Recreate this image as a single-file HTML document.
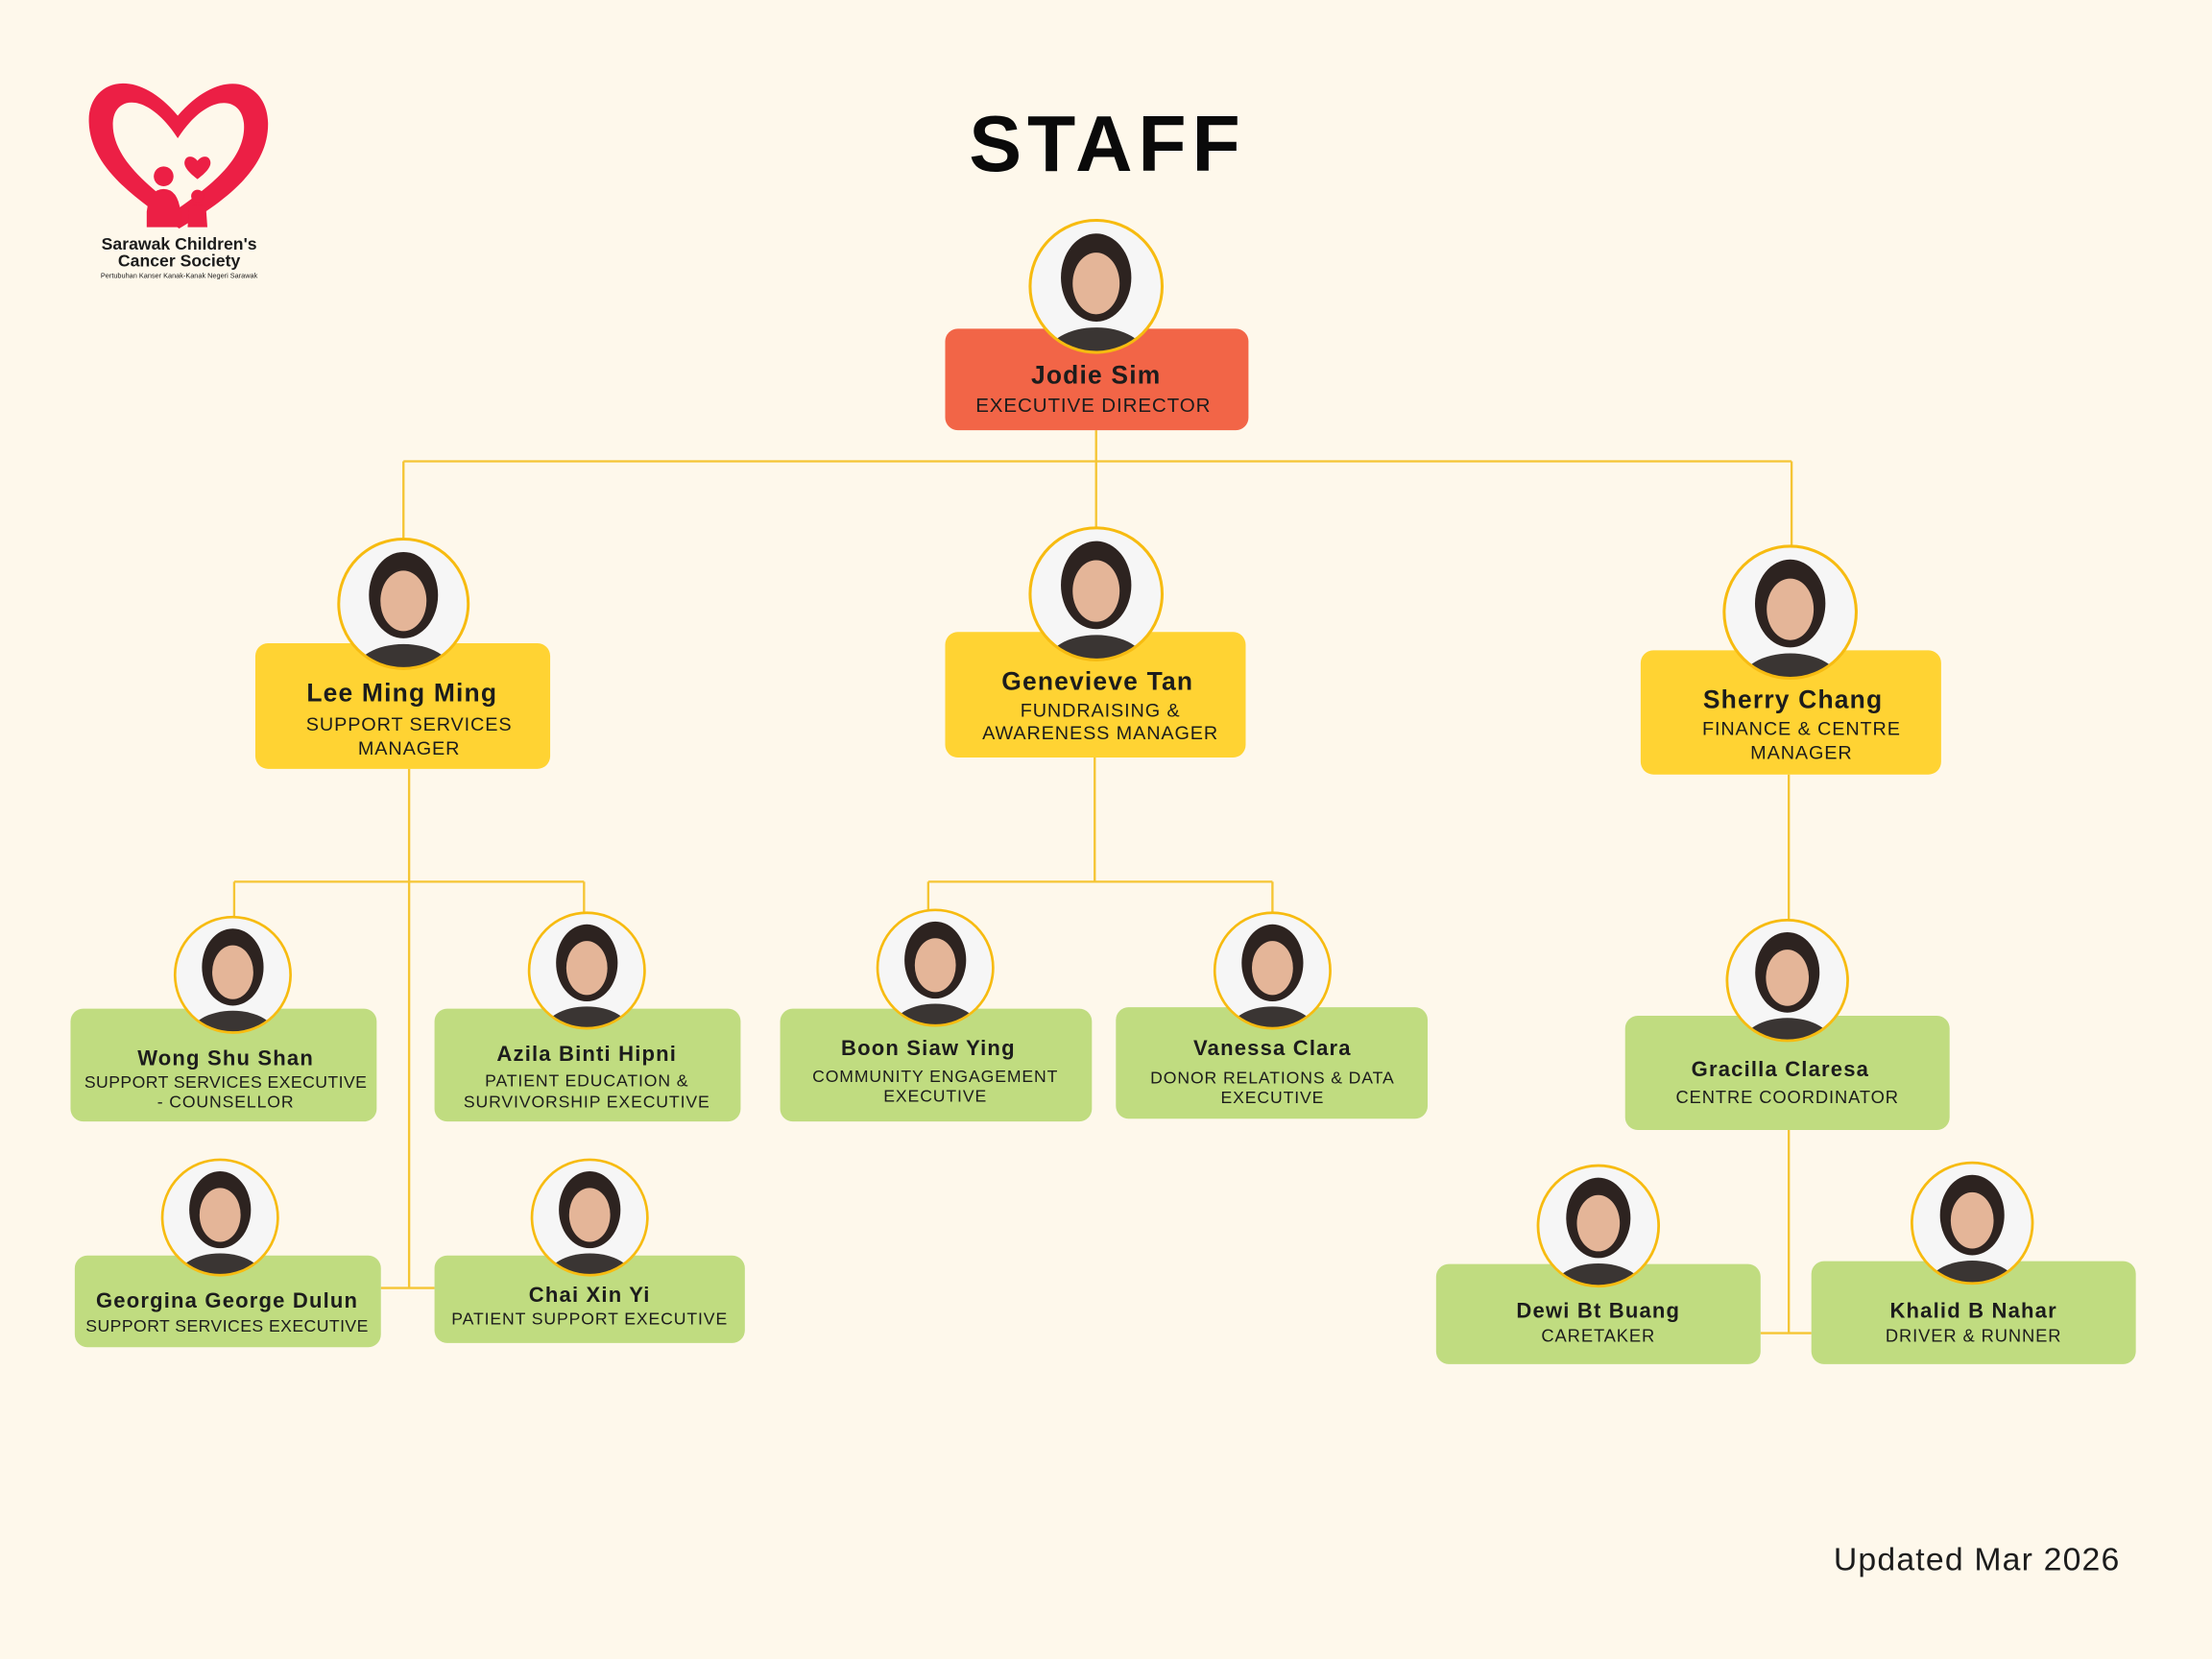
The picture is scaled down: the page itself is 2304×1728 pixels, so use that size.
<!DOCTYPE html>
<html><head><meta charset="utf-8"><style>
html,body{margin:0;padding:0;background:#fef8eb;}
svg{display:block}
.n{font-family:"Liberation Sans",sans-serif;font-weight:bold;fill:#1c1c1c;text-anchor:middle;letter-spacing:0.8px}
.t{font-family:"Liberation Sans",sans-serif;fill:#1c1c1c;text-anchor:middle;letter-spacing:0.6px}
</style></head><body>
<svg width="2304" height="1728" viewBox="0 0 1568 1176" xmlns="http://www.w3.org/2000/svg">
<defs>
<clipPath id="cc"><circle cx="0" cy="0" r="45"/></clipPath>
<g id="ph"><g clip-path="url(#cc)">
<circle r="45" fill="#f6f6f6"/>
<ellipse cx="0" cy="-6" rx="24" ry="30" fill="#2d2320"/>
<ellipse cx="0" cy="-2" rx="16" ry="21" fill="#e4b598"/>
<ellipse cx="0" cy="48" rx="34" ry="20" fill="#3a3533"/>
</g><circle r="45" fill="none" stroke="#f7bb10" stroke-width="2"/></g>
</defs>
<rect width="1568" height="1176" fill="#fef8eb"/>

<!-- logo -->
<path d="M127 162 C 95 140 63 118 63 85 C 63 58 95 45 126 82 C 158 45 190 58 190 88 C 190 120 160 142 127 162 Z" fill="#ec1f45"/>
<path d="M126 148 C 100 128 80 110 80 88 C 80 68 104 64 126 98 C 148 64 173 68 173 90 C 173 112 152 130 126 148 Z" fill="#fef8eb"/>
<path d="M140 127 C 132 121 130 117 131 114 C 132 110 137 110 140 114 C 143 110 148 110 149 114 C 150 117 148 121 140 127 Z" fill="#ec1f45"/>
<circle cx="116" cy="125" r="7" fill="#ec1f45"/>
<path d="M104 150 Q106 134 116 134 Q126 134 128 150 L128 161 L104 161 Z" fill="#ec1f45"/>
<circle cx="140" cy="139" r="4.5" fill="#ec1f45"/>
<path d="M133 161 L134 147 Q140 143 146 147 L147 161 Z" fill="#ec1f45"/>
<text x="127" y="177" class="n" style="font-size:12px;letter-spacing:0">Sarawak Children's</text>
<text x="127" y="189" class="n" style="font-size:12px;letter-spacing:0">Cancer Society</text>
<text x="127" y="197" class="t" style="font-size:5px;letter-spacing:0">Pertubuhan Kanser Kanak-Kanak Negeri Sarawak</text>

<text x="785" y="121" class="n" style="font-size:56px;font-weight:900;letter-spacing:4px;fill:#0a0a0a">STAFF</text>

<!-- connectors -->
<g stroke="#f5c534" stroke-width="1.6" fill="none">
<path d="M777 305 V327 M286 327 H1270 M286 327 V383 M777 327 V375 M1270 327 V388"/>
<path d="M290 545 V913 M166 625 H414 M166 625 V650 M414 625 V648 M270 913 H308"/>
<path d="M776 537 V625 M658 625 H902 M658 625 V646 M902 625 V648"/>
<path d="M1268 549 V653 M1268 801 V945 M1248 945 H1284"/>
</g>

<!-- boxes -->
<rect x="670" y="233" width="215" height="72" rx="9" fill="#f26547"/>
<rect x="181" y="456" width="209" height="89" rx="9" fill="#ffd333"/>
<rect x="670" y="448" width="213" height="89" rx="9" fill="#ffd333"/>
<rect x="1163" y="461" width="213" height="88" rx="9" fill="#ffd333"/>
<g fill="#c0dc80">
<rect x="50" y="715" width="217" height="80" rx="9"/>
<rect x="308" y="715" width="217" height="80" rx="9"/>
<rect x="553" y="715" width="221" height="80" rx="9"/>
<rect x="791" y="714" width="221" height="79" rx="9"/>
<rect x="53" y="890" width="217" height="65" rx="9"/>
<rect x="308" y="890" width="220" height="62" rx="9"/>
<rect x="1152" y="720" width="230" height="81" rx="9"/>
<rect x="1018" y="896" width="230" height="71" rx="9"/>
<rect x="1284" y="894" width="230" height="73" rx="9"/>
</g>

<!-- photos -->
<use href="#ph" transform="translate(777,203) scale(1.04)"/>
<use href="#ph" transform="translate(286,428) scale(1.02)"/>
<use href="#ph" transform="translate(777,421) scale(1.04)"/>
<use href="#ph" transform="translate(1269,434) scale(1.04)"/>
<use href="#ph" transform="translate(165,691) scale(0.91)"/>
<use href="#ph" transform="translate(416,688) scale(0.91)"/>
<use href="#ph" transform="translate(663,686) scale(0.91)"/>
<use href="#ph" transform="translate(902,688) scale(0.91)"/>
<use href="#ph" transform="translate(156,863) scale(0.91)"/>
<use href="#ph" transform="translate(418,863) scale(0.91)"/>
<use href="#ph" transform="translate(1267,695) scale(0.95)"/>
<use href="#ph" transform="translate(1133,869) scale(0.95)"/>
<use href="#ph" transform="translate(1398,867) scale(0.95)"/>

<!-- labels -->
<text x="777" y="272" class="n" style="font-size:18px">Jodie Sim</text>
<text x="775" y="292" class="t" style="font-size:14px">EXECUTIVE DIRECTOR</text>

<text x="285" y="497" class="n" style="font-size:18px">Lee Ming Ming</text>
<text x="290" y="518" class="t" style="font-size:13.5px">SUPPORT SERVICES</text>
<text x="290" y="535" class="t" style="font-size:13.5px">MANAGER</text>

<text x="778" y="489" class="n" style="font-size:18px">Genevieve Tan</text>
<text x="780" y="508" class="t" style="font-size:13.5px">FUNDRAISING &amp;</text>
<text x="780" y="524" class="t" style="font-size:13.5px">AWARENESS MANAGER</text>

<text x="1271" y="502" class="n" style="font-size:18px">Sherry Chang</text>
<text x="1277" y="521" class="t" style="font-size:13.5px">FINANCE &amp; CENTRE</text>
<text x="1277" y="538" class="t" style="font-size:13.5px">MANAGER</text>

<text x="160" y="755" class="n" style="font-size:15px">Wong Shu Shan</text>
<text x="160" y="771" class="t" style="font-size:12px;letter-spacing:0.3px">SUPPORT SERVICES EXECUTIVE</text>
<text x="160" y="785" class="t" style="font-size:12px">- COUNSELLOR</text>

<text x="416" y="752" class="n" style="font-size:15px">Azila Binti Hipni</text>
<text x="416" y="770" class="t" style="font-size:12px">PATIENT EDUCATION &amp;</text>
<text x="416" y="785" class="t" style="font-size:12px">SURVIVORSHIP EXECUTIVE</text>

<text x="658" y="748" class="n" style="font-size:15px">Boon Siaw Ying</text>
<text x="663" y="767" class="t" style="font-size:12px">COMMUNITY ENGAGEMENT</text>
<text x="663" y="781" class="t" style="font-size:12px">EXECUTIVE</text>

<text x="902" y="748" class="n" style="font-size:15px">Vanessa Clara</text>
<text x="902" y="768" class="t" style="font-size:12px">DONOR RELATIONS &amp; DATA</text>
<text x="902" y="782" class="t" style="font-size:12px">EXECUTIVE</text>

<text x="161" y="927" class="n" style="font-size:15px">Georgina George Dulun</text>
<text x="161" y="944" class="t" style="font-size:12px;letter-spacing:0.3px">SUPPORT SERVICES EXECUTIVE</text>

<text x="418" y="923" class="n" style="font-size:15px">Chai Xin Yi</text>
<text x="418" y="939" class="t" style="font-size:12px">PATIENT SUPPORT EXECUTIVE</text>

<text x="1262" y="763" class="n" style="font-size:15px">Gracilla Claresa</text>
<text x="1267" y="782" class="t" style="font-size:12.5px">CENTRE COORDINATOR</text>

<text x="1133" y="934" class="n" style="font-size:15px">Dewi Bt Buang</text>
<text x="1133" y="951" class="t" style="font-size:12.5px">CARETAKER</text>

<text x="1399" y="934" class="n" style="font-size:15px">Khalid B Nahar</text>
<text x="1399" y="951" class="t" style="font-size:12.5px">DRIVER &amp; RUNNER</text>

<text x="1503" y="1113" class="t" style="font-size:23px;text-anchor:end;letter-spacing:0.8px">Updated Mar 2026</text>
</svg>
</body></html>
